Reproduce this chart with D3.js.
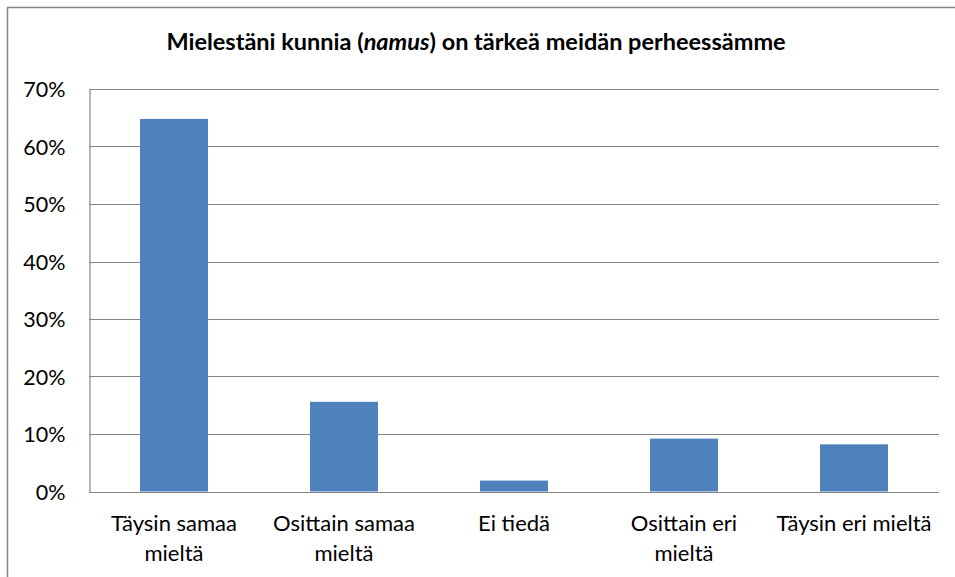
<!DOCTYPE html>
<html>
<head>
<meta charset="utf-8">
<script src="https://cdn.jsdelivr.net/npm/d3@7"></script>
<style>
  body { margin: 0; background: #fff; }
  text { font-family: Lato, "Open Sans", sans-serif; fill: #000; }
</style>
</head>
<body>
<svg id="chart" width="955" height="577"></svg>
<script>
// chart data
const categories = ["Täysin samaa mieltä", "Osittain samaa mieltä", "Ei tiedä", "Osittain eri mieltä", "Täysin eri mieltä"];
const values = [0.648, 0.156, 0.019, 0.092, 0.082];
const yTicks = [0, 0.1, 0.2, 0.3, 0.4, 0.5, 0.6, 0.7];
const titleParts = [
  {text: "Mielestäni kunnia (", italic: false},
  {text: "namus", italic: true},
  {text: ") on tärkeä meidän perheessämme", italic: false}
];

const barColor = "#4F81BD";
const gridColor = "#868686";
const margin = {top: 89, right: 16, bottom: 85.5, left: 89};
const W = 955, H = 577;

const svg = d3.select("#chart");

// outer chart border (only top & left visible in the frame)
svg.append("rect")
  .attr("x", 7.5).attr("y", 7.5)
  .attr("width", W).attr("height", H)
  .attr("fill", "none").attr("stroke", gridColor).attr("stroke-width", 1.5);

const x = d3.scaleBand()
  .domain(categories)
  .range([margin.left, W - margin.right])
  .paddingInner(0.6)
  .paddingOuter(0.3);

const y = d3.scaleLinear()
  .domain([0, 0.7])
  .range([H - margin.bottom, margin.top]);

// gridlines
svg.append("g").selectAll("line")
  .data(yTicks)
  .join("line")
  .attr("x1", margin.left).attr("x2", W - margin.right)
  .attr("y1", d => Math.round(y(d)) + 0.5).attr("y2", d => Math.round(y(d)) + 0.5)
  .attr("stroke", gridColor).attr("stroke-width", 1.2);

// y axis
const yAxis = svg.append("g")
  .attr("transform", "translate(" + (margin.left + 0.5) + ",0)")
  .call(d3.axisLeft(y).tickValues(yTicks).tickFormat(d3.format(".0%")).tickSize(0).tickPadding(24));
yAxis.select(".domain").attr("stroke", gridColor).attr("stroke-width", 1.2);
yAxis.selectAll("text").style("font-size", "21.5px").attr("dy", "0.36em");

// bars
svg.append("g").selectAll("rect")
  .data(values)
  .join("rect")
  .attr("x", (d, i) => x(categories[i]))
  .attr("y", d => y(d))
  .attr("width", x.bandwidth())
  .attr("height", d => y(0) - y(d))
  .attr("fill", barColor);

// x axis line on top of bars
svg.append("line")
  .attr("x1", margin.left).attr("x2", W - margin.right)
  .attr("y1", Math.round(y(0)) + 0.5).attr("y2", Math.round(y(0)) + 0.5)
  .attr("stroke", gridColor).attr("stroke-width", 1.2);

// category labels, wrapped
const xAxis = svg.append("g")
  .attr("transform", "translate(0," + y(0) + ")")
  .call(d3.axisBottom(x).tickSize(0).tickPadding(0));
xAxis.select(".domain").remove();
xAxis.selectAll("text").each(function(d) {
  const t = d3.select(this).text(null).style("font-size", "22px").attr("y", 0).attr("dy", null);
  const words = d.split(" ");
  const maxW = 160;
  let lines = [], cur = [];
  const probe = t.append("tspan");
  words.forEach(w => {
    const test = cur.concat(w).join(" ");
    probe.text(test);
    if (probe.node().getComputedTextLength() > maxW && cur.length) {
      lines.push(cur.join(" "));
      cur = [w];
    } else cur.push(w);
  });
  lines.push(cur.join(" "));
  probe.remove();
  lines.forEach((l, i) => {
    t.append("tspan").attr("x", 0).attr("y", 39 + i * 30).text(l);
  });
});

// title
const title = svg.append("text")
  .attr("x", 476).attr("y", 50)
  .attr("text-anchor", "middle")
  .style("font-size", "23.5px").style("font-weight", "bold");
title.selectAll("tspan")
  .data(titleParts)
  .join("tspan")
  .style("font-style", d => d.italic ? "italic" : "normal")
  .text(d => d.text);
</script>
</body>
</html>
